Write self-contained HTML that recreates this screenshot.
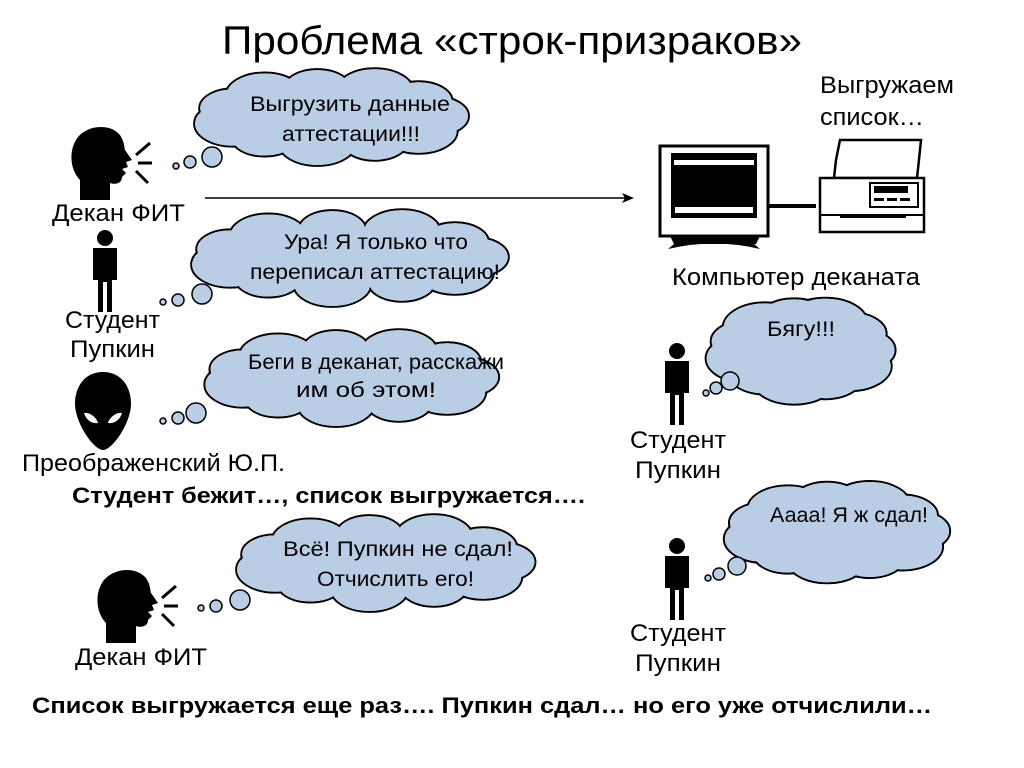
<!DOCTYPE html>
<html><head><meta charset="utf-8"><style>
body{margin:0;background:#fff}
svg{display:block}
text{font-family:"Liberation Sans",sans-serif;fill:#000}
.c{font-size:21px}
.l{font-size:24px}
.b{font-size:22px;font-weight:bold}
</style></head><body>
<svg id="s" width="1024" height="768" viewBox="0 0 1024 768" xmlns="http://www.w3.org/2000/svg">
<rect width="1024" height="768" fill="#fff"/>
<g id="clouds"></g>
<text x="222" y="54" font-size="40" textLength="580" lengthAdjust="spacingAndGlyphs">Проблема «строк-призраков»</text>
<line x1="205" y1="198" x2="628" y2="198" stroke="#000" stroke-width="1.5"/>
<path d="M634,198 L622,193 L625,198 L622,203 Z" fill="#000"/>
<g transform="translate(70,125)">
<path d="M10,75 L10,55 C0,45 -2,25 8,12 C18,0 40,-2 50,10 C55,18 54,22 55,25 L62,35 L56,37 L58,42 L52,44 L56,48 L52,52 C52,58 46,60 40,58 L40,75 Z" fill="#000"/>
<path d="M66,30 L80,18 M68,38 L82,38 M66,46 L78,58" stroke="#000" stroke-width="3"/>
</g>
<g transform="translate(96,568)">
<path d="M10,75 L10,55 C0,45 -2,25 8,12 C18,0 40,-2 50,10 C55,18 54,22 55,25 L62,35 L56,37 L58,42 L52,44 L56,48 L52,52 C52,58 46,60 40,58 L40,75 Z" fill="#000"/>
<path d="M66,30 L80,18 M68,38 L82,38 M66,46 L78,58" stroke="#000" stroke-width="3"/>
</g>
<g transform="translate(105,230)">
<circle cx="0" cy="8" r="8" fill="#000"/>
<path d="M-12,18 H12 V50 H7 V82 H2 V52 H-2 V82 H-7 V50 H-12 Z" fill="#000"/>
</g>
<g transform="translate(677,343)">
<circle cx="0" cy="8" r="8" fill="#000"/>
<path d="M-12,18 H12 V50 H7 V82 H2 V52 H-2 V82 H-7 V50 H-12 Z" fill="#000"/>
</g>
<g transform="translate(677,538)">
<circle cx="0" cy="8" r="8" fill="#000"/>
<path d="M-12,18 H12 V50 H7 V82 H2 V52 H-2 V82 H-7 V50 H-12 Z" fill="#000"/>
</g>
<path d="M103,372 C80,372 72,395 76,412 C80,430 95,450 103,450 C111,450 126,430 130,412 C134,395 126,372 103,372 Z" fill="#000"/>
<path d="M84,413 C90,412 97,418 98,423 C92,424 86,420 84,413 Z M122,413 C116,412 109,418 108,423 C114,424 120,420 122,413 Z" fill="#fff"/>
<g>
<rect x="660" y="146" width="108" height="90" fill="#fff" stroke="#000" stroke-width="3"/>
<rect x="671" y="153" width="86" height="65" fill="#000"/>
<rect x="674" y="160" width="80" height="5" fill="#fff"/>
<rect x="675" y="207" width="78" height="6" fill="#fff"/>
<path d="M670,236 L760,236 L756,244 L674,244 Z" fill="#000"/>
<path d="M668,249 Q714,238 760,249 L754,244 L674,244 Z" fill="#000"/>
<line x1="768" y1="206" x2="816" y2="206" stroke="#000" stroke-width="4"/>
<path d="M840,140 Q838,150 836,160 L834,178 L917,178 Q919,160 921,140 Z" fill="#fff" stroke="#000" stroke-width="2.5"/>
<rect x="820" y="178" width="104" height="54" fill="#fff" stroke="#000" stroke-width="2.5"/>
<line x1="820" y1="215" x2="924" y2="215" stroke="#000" stroke-width="2"/>
<rect x="840" y="215" width="66" height="3" fill="#000"/>
<rect x="870" y="183" width="48" height="24" fill="#fff" stroke="#000" stroke-width="2"/>
<rect x="874" y="186" width="34" height="7" fill="#000"/>
<rect x="874" y="198" width="10" height="3" fill="#000"/><rect x="887" y="198" width="10" height="3" fill="#000"/><rect x="900" y="198" width="10" height="3" fill="#000"/>
</g>
<text class="l" x="52" y="221" textLength="133" lengthAdjust="spacingAndGlyphs">Декан ФИТ</text>
<text class="l" x="65" y="328" textLength="95" lengthAdjust="spacingAndGlyphs">Студент</text>
<text class="l" x="70" y="357" textLength="85" lengthAdjust="spacingAndGlyphs">Пупкин</text>
<text class="l" x="22" y="471" textLength="263" lengthAdjust="spacingAndGlyphs">Преображенский Ю.П.</text>
<text class="b" x="72" y="503" textLength="513" lengthAdjust="spacingAndGlyphs">Студент бежит…, список выгружается….</text>
<text class="l" x="75" y="665" textLength="132" lengthAdjust="spacingAndGlyphs">Декан ФИТ</text>
<text class="b" x="32" y="713" textLength="900" lengthAdjust="spacingAndGlyphs">Список выгружается еще раз…. Пупкин сдал… но его уже отчислили…</text>
<text class="l" x="820" y="93" textLength="134" lengthAdjust="spacingAndGlyphs">Выгружаем</text>
<text class="l" x="820" y="125" textLength="104" lengthAdjust="spacingAndGlyphs">список…</text>
<text class="l" x="672" y="285" textLength="248" lengthAdjust="spacingAndGlyphs">Компьютер деканата</text>
<text class="l" x="630" y="448" textLength="96" lengthAdjust="spacingAndGlyphs">Студент</text>
<text class="l" x="635" y="478" textLength="86" lengthAdjust="spacingAndGlyphs">Пупкин</text>
<text class="l" x="630" y="641" textLength="96" lengthAdjust="spacingAndGlyphs">Студент</text>
<text class="l" x="635" y="671" textLength="86" lengthAdjust="spacingAndGlyphs">Пупкин</text>
<g id="ct"></g>
</svg>
<script>
var NS="http://www.w3.org/2000/svg";
var cl=[
 [332,116,132,40,[[176,166,3],[190,162,6],[212,157,10]],[["Выгрузить данные",250,111,200],["аттестации!!!",282,141,138]]],
 [350,257,160,40,[[163,302,3],[178,300,6],[202,294,10]],[["Ура! Я только что",284,249,184],["переписал аттестацию!",250,279,250]]],
 [352,377,145,40,[[163,421,3],[178,418,6],[196,413,10]],[["Беги в деканат, расскажи",248,369,256],["им об этом!",296,397,140]]],
 [386,562,148,40,[[201,608,3],[216,606,6],[240,600,10]],[["Всё! Пупкин не сдал!",283,556,230],["Отчислить его!",317,586,157]]],
 [802,350,72,44,[[706,393,3],[716,388,6],[730,381,9]],[["Бягу!!!",767,336,68]]],
 [838,531,98,42,[[708,578,3],[719,574,6],[737,566,9]],[["Аааа! Я ж сдал!",770,522,158]]]
];
var g=document.getElementById("clouds"),ct=document.getElementById("ct");
function mk(t,a,p){var e=document.createElementNS(NS,t);for(var k in a)e.setAttribute(k,a[k]);p.appendChild(e);return e;}
cl.forEach(function(c){
 var cx=c[0],cy=c[1],rx=c[2],ry=c[3],n=11,bs=[];
 for(var i=0;i<n;i++){var a=i/n*2*Math.PI;bs.push([cx+rx*0.78*Math.cos(a),cy+ry*0.68*Math.sin(a),Math.min(rx,ry)*0.5+(i%2)*3]);}
 var s=mk("g",{},g);
 bs.forEach(function(b){mk("ellipse",{cx:b[0],cy:b[1],rx:b[2]*1.7,ry:b[2],fill:"none",stroke:"#000","stroke-width":2},s);});
 bs.forEach(function(b){mk("ellipse",{cx:b[0],cy:b[1],rx:b[2]*1.7-1,ry:b[2]-1,fill:"#b9cde5"},s);});
 mk("ellipse",{cx:cx,cy:cy,rx:rx*0.8,ry:ry*0.7,fill:"#b9cde5"},s);
 c[4].forEach(function(p){mk("circle",{cx:p[0],cy:p[1],r:p[2],fill:"#b9cde5",stroke:"#000","stroke-width":1.5},s);});
 c[5].forEach(function(t){var e=mk("text",{x:t[1],y:t[2],"class":"c",textLength:t[3],lengthAdjust:"spacingAndGlyphs"},ct);e.textContent=t[0];});
});
</script>
</body></html>
